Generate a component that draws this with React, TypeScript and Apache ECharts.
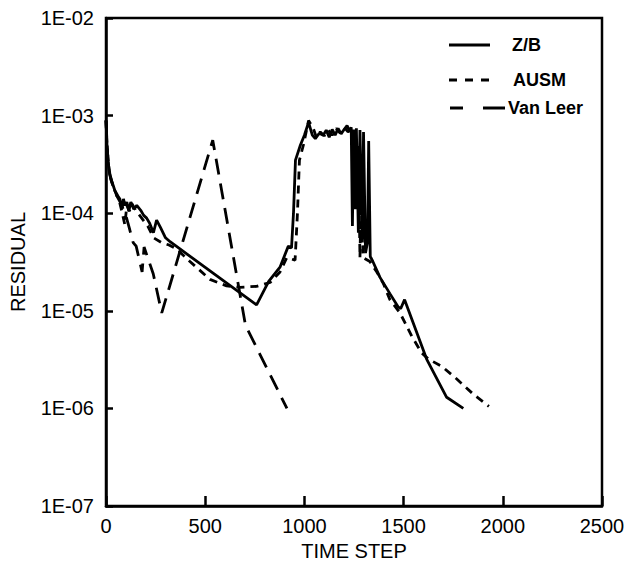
import React, { useEffect, useRef } from "react";
import * as echarts from "echarts";

// ---- data (time step, residual) ----
const zbSteps = [0, 5, 12, 20, 30, 45, 60, 70, 80, 88, 96, 105, 115, 125, 140, 155, 175, 190, 205, 220, 239, 255, 275, 300, 323, 759, 820, 877, 919, 935, 945, 955, 980, 1000, 1021, 1040, 1055, 1075, 1095, 1110, 1125, 1140, 1155, 1170, 1185, 1200, 1215, 1228, 1236, 1242, 1248, 1256, 1262, 1272, 1280, 1292, 1298, 1308, 1318, 1324, 1332, 1345, 1381, 1431, 1472, 1485, 1505, 1616, 1717, 1801];
const zbValues = [8.9e-4, 5.0e-4, 3.2e-4, 2.5e-4, 2.1e-4, 1.7e-4, 1.5e-4, 1.4e-4, 1.1e-4, 1.4e-4, 1.2e-4, 1.3e-4, 1.05e-4, 1.3e-4, 1.1e-4, 1.2e-4, 1.07e-4, 9.5e-5, 8.9e-5, 7.9e-5, 6.3e-5, 8.5e-5, 7.1e-5, 5.6e-5, 5.1e-5, 1.15e-5, 2.0e-5, 2.8e-5, 4.6e-5, 4.4e-5, 1.0e-4, 3.5e-4, 5.0e-4, 6.3e-4, 8.5e-4, 6.3e-4, 5.8e-4, 6.6e-4, 6.3e-4, 7.1e-4, 6.0e-4, 7.2e-4, 6.3e-4, 7.4e-4, 6.5e-4, 7.2e-4, 7.9e-4, 6.9e-4, 7.6e-4, 7.4e-5, 7.2e-4, 1.1e-4, 7.4e-4, 6.3e-5, 7.1e-4, 5.0e-5, 6.8e-4, 3.9e-5, 5.0e-5, 5.5e-4, 3.6e-5, 3.2e-5, 2.2e-5, 1.5e-5, 1.1e-5, 1.05e-5, 1.3e-5, 3.2e-6, 1.3e-6, 1.0e-6];

const ausmSteps = [0, 6, 15, 25, 40, 55, 70, 82, 95, 105, 118, 130, 150, 180, 210, 240, 280, 320, 356, 423, 524, 608, 675, 759, 827, 877, 911, 953, 965, 975, 995, 1021, 1045, 1060, 1080, 1100, 1120, 1140, 1160, 1180, 1200, 1220, 1240, 1252, 1258, 1266, 1272, 1280, 1288, 1296, 1330, 1365, 1398, 1431, 1482, 1541, 1591, 1625, 1692, 1768, 1851, 1930];
const ausmValues = [8.9e-4, 4.5e-4, 2.8e-4, 2.2e-4, 1.8e-4, 1.5e-4, 1.26e-4, 1.0e-4, 7.6e-5, 1.2e-4, 1.05e-4, 1.26e-4, 1.07e-4, 8.9e-5, 7.4e-5, 5.6e-5, 5.0e-5, 4.7e-5, 4.3e-5, 3.2e-5, 2.1e-5, 1.8e-5, 1.74e-5, 1.78e-5, 1.95e-5, 2.5e-5, 3.5e-5, 3.3e-5, 1.0e-4, 3.5e-4, 5.0e-4, 8.9e-4, 7.4e-4, 6.0e-4, 6.8e-4, 6.2e-4, 7.1e-4, 6.3e-4, 7.4e-4, 6.6e-4, 7.6e-4, 6.8e-4, 7.4e-4, 2.5e-4, 6.3e-4, 1.26e-4, 5.0e-4, 3.5e-5, 2.5e-4, 3.5e-5, 3.2e-5, 2.5e-5, 1.9e-5, 1.3e-5, 9.5e-6, 5.5e-6, 3.7e-6, 3.2e-6, 2.7e-6, 2.0e-6, 1.4e-6, 1.05e-6];

const vlSteps = [0, 8, 18, 35, 55, 75, 100, 117, 137, 152, 182, 192, 238, 281, 538, 703, 912];
const vlValues = [8.9e-4, 4.0e-4, 2.5e-4, 1.9e-4, 1.5e-4, 1.26e-4, 9.5e-5, 7.1e-5, 5.0e-5, 4.6e-5, 2.5e-5, 4.5e-5, 2.4e-5, 9.5e-6, 5.6e-4, 7.1e-6, 1.0e-6];

const seriesNames = ["Z/B", "AUSM", "Van Leer"];
const xTicks = [0, 500, 1000, 1500, 2000, 2500];
const yTickLabels = ["1E-07", "1E-06", "1E-05", "1E-04", "1E-03", "1E-02"];

const FONT = "'Liberation Sans', Arial, Helvetica, sans-serif";

function pairs(xs: number[], ys: number[]) {
  return xs.map((x, i) => [x, ys[i]]);
}

export default function App() {
  const ref = useRef<HTMLDivElement>(null);

  useEffect(() => {
    if (!ref.current) return;
    const chart = echarts.init(ref.current, undefined, { renderer: "svg" });
    const lineBase = { type: "line", showSymbol: false, symbol: "none", silent: true };
    const legendX1 = 449;
    const legendX2 = 490;
    const legendFont = `bold 18px ${FONT}`;
    chart.setOption({
      animation: false,
      backgroundColor: "#ffffff",
      grid: {
        left: 106,
        right: 27,
        top: 18,
        bottom: 62,
        show: true,
        borderColor: "#000",
        borderWidth: 2.5,
        backgroundColor: "transparent",
      },
      xAxis: {
        type: "value",
        min: xTicks[0],
        max: xTicks[xTicks.length - 1],
        interval: 500,
        name: "TIME STEP",
        nameLocation: "middle",
        nameGap: 35,
        nameTextStyle: { fontFamily: FONT, fontSize: 20, color: "#000" },
        axisLine: { lineStyle: { color: "#000", width: 2.5 } },
        axisTick: { inside: true, length: 10, lineStyle: { color: "#000", width: 2.5 } },
        axisLabel: {
          fontFamily: FONT,
          fontSize: 20,
          color: "#000",
          margin: 10,
          formatter: (v: number) => String(v),
        },
        splitLine: { show: false },
      },
      yAxis: {
        type: "log",
        logBase: 10,
        min: 1e-7,
        max: 1e-2,
        name: "RESIDUAL",
        nameLocation: "middle",
        nameGap: 78,
        nameTextStyle: { fontFamily: FONT, fontSize: 20, color: "#000" },
        axisLine: { lineStyle: { color: "#000", width: 2.5 } },
        axisTick: { inside: true, length: 7, lineStyle: { color: "#000", width: 2.5 } },
        axisLabel: {
          fontFamily: FONT,
          fontSize: 20,
          color: "#000",
          margin: 12,
          formatter: (v: number) => {
            const idx = Math.round(Math.log10(v)) + 7;
            return yTickLabels[idx] ?? "";
          },
        },
        splitLine: { show: false },
        minorTick: { show: false },
      },
      series: [
        {
          ...lineBase,
          name: seriesNames[0],
          data: pairs(zbSteps, zbValues),
          lineStyle: { color: "#000", width: 2.8, type: "solid" },
        },
        {
          ...lineBase,
          name: seriesNames[1],
          data: pairs(ausmSteps, ausmValues),
          lineStyle: { color: "#000", width: 2.8, type: [8, 6] },
        },
        {
          ...lineBase,
          name: seriesNames[2],
          data: pairs(vlSteps, vlValues),
          lineStyle: { color: "#000", width: 2.8, type: [16, 9] },
        },
      ],
      graphic: [
        {
          type: "line",
          shape: { x1: legendX1, y1: 45, x2: legendX2, y2: 45 },
          style: { stroke: "#000", lineWidth: 3 },
        },
        {
          type: "text",
          x: 512,
          y: 45,
          style: { text: seriesNames[0], font: legendFont, fill: "#000", verticalAlign: "middle" },
        },
        {
          type: "line",
          shape: { x1: legendX1, y1: 80, x2: legendX2, y2: 80 },
          style: { stroke: "#000", lineWidth: 3, lineDash: [8, 8] },
        },
        {
          type: "text",
          x: 513,
          y: 80,
          style: { text: seriesNames[1], font: legendFont, fill: "#000", verticalAlign: "middle" },
        },
        {
          type: "line",
          shape: { x1: 450, y1: 108, x2: 463, y2: 108 },
          style: { stroke: "#000", lineWidth: 3 },
        },
        {
          type: "line",
          shape: { x1: 483, y1: 108, x2: 505, y2: 108 },
          style: { stroke: "#000", lineWidth: 3 },
        },
        {
          type: "text",
          x: 508,
          y: 108,
          style: { text: seriesNames[2], font: legendFont, fill: "#000", verticalAlign: "middle" },
        },
      ],
    });
    return () => chart.dispose();
  }, []);

  return (
    <div
      ref={ref}
      style={{ position: "fixed", left: 0, top: 0, width: 629, height: 568, background: "#fff" }}
    />
  );
}
